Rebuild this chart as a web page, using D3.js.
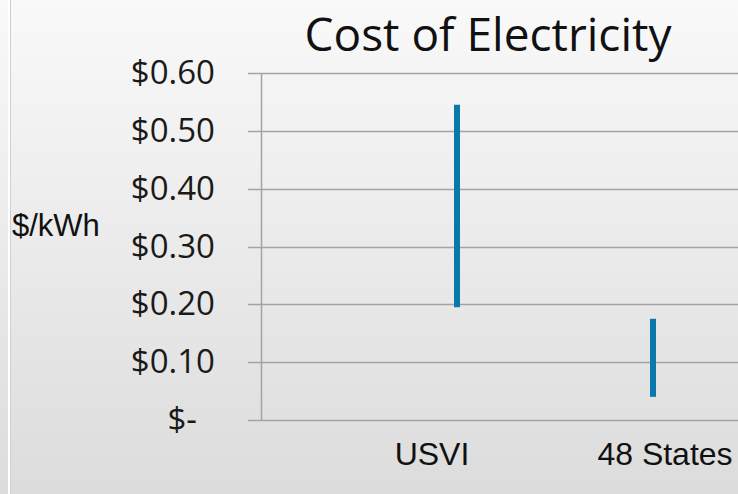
<!DOCTYPE html>
<html>
<head>
<meta charset="utf-8">
<script src="https://cdn.jsdelivr.net/npm/d3@7"></script>
<style>
  body { margin: 0; background: #fff; }
</style>
</head>
<body>
<div id="chart"></div>
<script>
// data
const categories = ["USVI", "48 States"];
const highValues = [0.545, 0.175];
const lowValues = [0.195, 0.04];
const yTicks = [0, 0.1, 0.2, 0.3, 0.4, 0.5, 0.6];
const yTickLabels = ["$-", "$0.10", "$0.20", "$0.30", "$0.40", "$0.50", "$0.60"];

const width = 738,
  height = 494,
  marginLeft = 261,
  marginTop = 73,
  plotBottom = 420,
  plotRight = 849; // plot runs past the right edge, like the original crop

const svg = d3
  .select("#chart")
  .append("svg")
  .attr("width", width)
  .attr("height", height)
  .attr("viewBox", [0, 0, width, height]);

// background gradient
const bg = svg
  .append("defs")
  .append("linearGradient")
  .attr("id", "bg")
  .attr("x1", "0%")
  .attr("y1", "0%")
  .attr("x2", "0%")
  .attr("y2", "100%");
bg.append("stop").attr("offset", "0%").attr("stop-color", "#f9f9f9");
bg.append("stop").attr("offset", "100%").attr("stop-color", "#dcdcdc");

svg.append("rect").attr("width", width).attr("height", height).attr("fill", "url(#bg)");
// left edge strip
svg.append("rect").attr("x", 0).attr("width", 8).attr("height", height).attr("fill", "url(#bg)").attr("opacity", 0.6);
svg.append("rect").attr("x", 8).attr("width", 2).attr("height", height).attr("fill", "#ffffff");
svg.append("rect").attr("x", 10).attr("width", 1).attr("height", height).attr("fill", "#d0d0d0");

// scales
const yScale = d3.scaleLinear([0, 0.6], [plotBottom, marginTop]);
const xScale = d3.scalePoint(categories, [marginLeft, plotRight]).padding(1);

// gridlines
svg
  .append("g")
  .selectAll("line")
  .data(yTicks)
  .join("line")
  .attr("x1", marginLeft - 13)
  .attr("x2", width)
  .attr("y1", (d) => Math.round(yScale(d)) + 0.5)
  .attr("y2", (d) => Math.round(yScale(d)) + 0.5)
  .attr("stroke", "#a3a3a3")
  .attr("stroke-width", 1.5);

// y axis
const yAxis = d3
  .axisLeft(yScale)
  .tickValues(yTicks)
  .tickSize(0)
  .tickPadding(46)
  .tickFormat((d, i) => yTickLabels[i]);

svg
  .append("g")
  .attr("transform", `translate(${marginLeft},0)`)
  .call(yAxis)
  .call((g) => g.select(".domain").remove())
  .call((g) =>
    g
      .selectAll(".tick text")
      .attr("font-size", 33)
      .attr("font-family", "Open Sans")
      .attr("fill", "#1a1a1a")
      .attr("dy", "0.32em")
      .attr("dx", (d) => (d === 0 ? -18 : 0))
  );

svg
  .append("line")
  .attr("x1", marginLeft + 0.5)
  .attr("x2", marginLeft + 0.5)
  .attr("y1", marginTop)
  .attr("y2", plotBottom)
  .attr("stroke", "#a3a3a3")
  .attr("stroke-width", 1.5);

// high-low bars
svg
  .append("g")
  .selectAll("line")
  .data(categories)
  .join("line")
  .attr("x1", (d) => xScale(d))
  .attr("x2", (d) => xScale(d))
  .attr("y1", (d, i) => yScale(highValues[i]))
  .attr("y2", (d, i) => yScale(lowValues[i]))
  .attr("stroke", "#0a78a8")
  .attr("stroke-width", 6);

// category labels
const labelShift = [-25, 12];
svg
  .append("g")
  .selectAll("text")
  .data(categories)
  .join("text")
  .attr("x", (d, i) => xScale(d) + labelShift[i])
  .attr("y", 465)
  .attr("text-anchor", "middle")
  .attr("font-family", "Liberation Sans, Arial")
  .attr("font-size", 32)
  .attr("fill", "#111")
  .text((d) => d);

// axis title
svg
  .append("text")
  .attr("x", 12)
  .attr("y", 236)
  .attr("font-family", "Liberation Sans, Arial")
  .attr("font-size", 31)
  .attr("fill", "#111")
  .text("$/kWh");

// chart title
svg
  .append("text")
  .attr("x", 488)
  .attr("y", 51)
  .attr("text-anchor", "middle")
  .attr("font-family", "Open Sans")
  .attr("font-size", 46)
  .attr("fill", "#111")
  .text("Cost of Electricity");
</script>
</body>
</html>
